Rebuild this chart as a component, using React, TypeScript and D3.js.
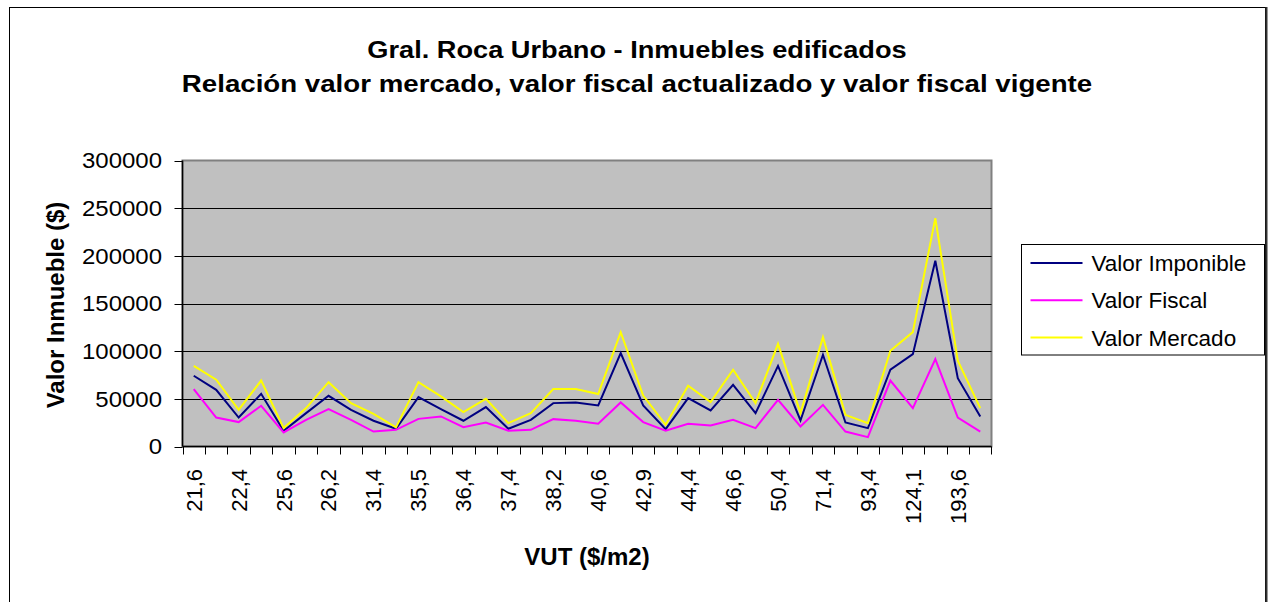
import React from 'react';
import * as d3 from 'd3';

// VUT categories ($/m2) - only every other one is labelled on the axis
const categories = [
  '21,6', '22,0', '22,4', '24,0', '25,6', '25,9', '26,2', '28,8', '31,4', '33,5',
  '35,5', '36,0', '36,4', '36,9', '37,4', '37,8', '38,2', '39,4', '40,6', '41,8',
  '42,9', '43,6', '44,4', '45,5', '46,6', '48,5', '50,4', '60,9', '71,4', '82,4',
  '93,4', '108,8', '124,1', '158,8', '193,6', '220,0',
];

const valorImponible = [
  74200, 59500, 30400, 55300, 16500, 35000, 53200, 38500, 27000, 18600,
  51800, 39200, 27000, 41300, 18600, 28000, 45500, 46200, 43000, 98000,
  43000, 18200, 50700, 37800, 64700, 35000, 84600, 27300, 96200, 25200,
  19300, 80500, 96900, 194800, 71700, 31500,
];

const valorFiscal = [
  60200, 30400, 25600, 42700, 14700, 28000, 39200, 28000, 15700, 17500,
  29000, 31500, 20300, 25200, 16500, 17500, 28700, 27000, 23800, 46200,
  25600, 16500, 23800, 22000, 28000, 19300, 49000, 21000, 43700, 15700,
  9800, 69200, 40300, 91700, 30400, 15700,
];

const valorMercado = [
  84600, 70000, 38500, 69200, 19300, 40300, 67500, 45500, 34300, 20000,
  67500, 52500, 36000, 50000, 24500, 35000, 60200, 60200, 55000, 120000,
  53500, 22800, 63700, 46500, 80500, 45500, 107700, 35000, 114700, 33200,
  24500, 100400, 120000, 239600, 89900, 40300,
];

const yTicks = [0, 50000, 100000, 150000, 200000, 250000, 300000];

const series = [
  { name: 'Valor Imponible', values: valorImponible, color: '#000080' },
  { name: 'Valor Fiscal', values: valorFiscal, color: '#FF00FF' },
  { name: 'Valor Mercado', values: valorMercado, color: '#FFFF00' },
];

const font = '"Liberation Sans", Arial, sans-serif';

export default function App() {
  const width = 1272;
  const height = 602;
  const plot = { left: 182.5, right: 991.5, top: 160.5, bottom: 446.5 };

  const x = d3.scaleBand<string>()
    .domain(categories)
    .range([plot.left, plot.right]);

  const y = d3.scaleLinear()
    .domain([0, 300000])
    .range([plot.bottom, plot.top]);

  const line = d3.line<number>()
    .x((_, i) => (x(categories[i]) as number) + x.bandwidth() / 2)
    .y(d => y(d));

  const legendX = 1021.5;
  const legendY = 244.5;
  const rowGap = 37.3;

  return (
    <div style={{ position: 'absolute', left: 0, top: 0 }}>
      <svg width={width} height={height} style={{ display: 'block', background: '#fff' }}>
        {/* outer chart frame */}
        <rect x={9.5} y={7.5} width={1256} height={620} fill="#fff" stroke="#000" strokeWidth={1} />
        <line x1={1266.5} x2={1266.5} y1={7} y2={602} stroke="#333" strokeWidth={2} />

        {/* title (the original is a bit wider than Arial, so stretch horizontally) */}
        <text transform="translate(637,58) scale(1.11,1)" textAnchor="middle" fontFamily={font}
          fontWeight="bold" fontSize={24.5}>
          Gral. Roca Urbano - Inmuebles edificados
        </text>
        <text transform="translate(637,92) scale(1.13,1)" textAnchor="middle" fontFamily={font}
          fontWeight="bold" fontSize={24.5}>
          Relación valor mercado, valor fiscal actualizado y valor fiscal vigente
        </text>

        {/* plot area */}
        <rect x={plot.left} y={plot.top} width={plot.right - plot.left} height={plot.bottom - plot.top}
          fill="#C0C0C0" stroke="#808080" strokeWidth={2} />

        {/* grid lines + y ticks */}
        {yTicks.map(t => (
          <g key={t}>
            {t > 0 && t < 300000 && (
              <line x1={plot.left} x2={plot.right} y1={Math.round(y(t)) + 0.5} y2={Math.round(y(t)) + 0.5}
                stroke="#000" strokeWidth={1} />
            )}
            <line x1={plot.left - 8} x2={plot.left} y1={Math.round(y(t)) + 0.5} y2={Math.round(y(t)) + 0.5}
              stroke="#000" strokeWidth={1} />
            <text transform={`translate(162,${y(t)}) scale(1.09,1)`} dy="0.36em" textAnchor="end"
              fontFamily={font} fontSize={22}>
              {t}
            </text>
          </g>
        ))}

        {/* x axis ticks */}
        {categories.map(c => (
          <line key={c} x1={Math.round(x(c) as number) + 0.5} x2={Math.round(x(c) as number) + 0.5}
            y1={plot.bottom} y2={plot.bottom + 8} stroke="#000" strokeWidth={1} />
        ))}
        <line x1={plot.right} x2={plot.right} y1={plot.bottom} y2={plot.bottom + 8} stroke="#000" />
        {categories.map((c, i) => i % 2 === 0 && (
          <text key={c} transform={`translate(${(x(c) as number) + x.bandwidth() / 2},469) rotate(-90)`}
            dy="0.36em" textAnchor="end" fontFamily={font} fontSize={22}>
            {c}
          </text>
        ))}

        {/* axes */}
        <line x1={plot.left} x2={plot.left} y1={plot.top} y2={plot.bottom} stroke="#000" strokeWidth={1.5} />
        <line x1={plot.left} x2={plot.right} y1={plot.bottom} y2={plot.bottom} stroke="#000" strokeWidth={1.5} />

        {/* series */}
        {series.map(s => (
          <path key={s.name} d={line(s.values) || ''} fill="none" stroke={s.color} strokeWidth={2} />
        ))}

        {/* axis titles */}
        <text transform="translate(55,305) rotate(-90)" dy="0.36em" textAnchor="middle"
          fontFamily={font} fontWeight="bold" fontSize={24}>
          Valor Inmueble ($)
        </text>
        <text x={587} y={565} textAnchor="middle" fontFamily={font} fontWeight="bold" fontSize={24}>
          VUT ($/m2)
        </text>

        {/* legend */}
        <rect x={legendX} y={legendY} width={243} height={110.5} fill="#fff" stroke="#000" strokeWidth={1} />
        {series.map((s, i) => (
          <g key={s.name} transform={`translate(${legendX},${legendY + 18.5 + i * rowGap})`}>
            <line x1={9} x2={61} y1={0} y2={0} stroke={s.color} strokeWidth={2} />
            <text x={70} y={0} dy="0.36em" fontFamily={font} fontSize={22.5}>{s.name}</text>
          </g>
        ))}
      </svg>
    </div>
  );
}
